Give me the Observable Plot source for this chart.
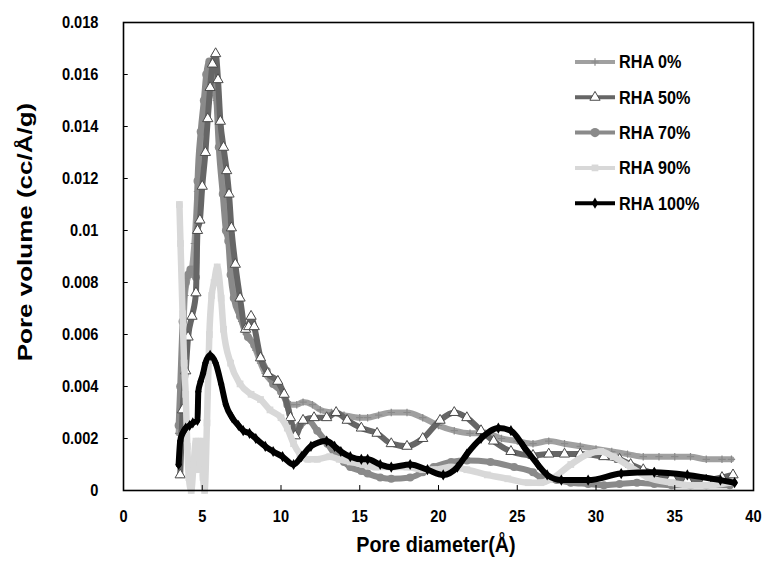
<!DOCTYPE html>
<html>
<head>
<meta charset="utf-8">
<script src="https://cdn.jsdelivr.net/npm/d3@7"></script>
<script src="https://cdn.jsdelivr.net/npm/@observablehq/plot@0.6"></script>
<style>
  html, body { margin: 0; padding: 0; background: #fff; }
  #chart { width: 765px; height: 563px; }
  svg { font-family: "Liberation Sans", Arial, sans-serif; }
</style>
</head>
<body>
<div id="chart"></div>
<script>
const seriesNames = ["RHA 0%", "RHA 50%", "RHA 70%", "RHA 90%", "RHA 100%"];
const xTicks = [0, 5, 10, 15, 20, 25, 30, 35, 40];
const yTicks = [0, 0.002, 0.004, 0.006, 0.008, 0.01, 0.012, 0.014, 0.016, 0.018];

const rha0X = [3.5, 3.7, 3.9, 4.1, 4.3, 4.5, 4.7, 4.9, 5.1, 5.3, 5.5, 5.7, 5.9, 6.1, 6.3, 6.5, 6.7, 6.9, 7.2, 7.5, 7.8, 8.1, 8.4, 8.7, 9.0, 9.4, 9.8, 10.2, 10.6, 11.0, 11.4, 12.0, 12.5, 13.2, 14.0, 15.0, 15.5, 16.2, 17.0, 18.0, 19.0, 20.0, 21.0, 22.0, 23.0, 24.0, 25.0, 26.0, 27.0, 28.0, 29.0, 30.0, 31.0, 32.0, 33.0, 34.0, 35.0, 36.0, 37.0, 38.0, 38.6];
const rha0Y = [0.0022, 0.0045, 0.0075, 0.0082, 0.0084, 0.0095, 0.0115, 0.0128, 0.0138, 0.0146, 0.0152, 0.0155, 0.0150, 0.0138, 0.0125, 0.0112, 0.0098, 0.0086, 0.0074, 0.0065, 0.0060, 0.0058, 0.0054, 0.0049, 0.0045, 0.0042, 0.0040, 0.0036, 0.0033, 0.0033, 0.0034, 0.0033, 0.0031, 0.0030, 0.0029, 0.0028, 0.0028, 0.0029, 0.0030, 0.0030, 0.0028, 0.0025, 0.0023, 0.0022, 0.0022, 0.0020, 0.0019, 0.0018, 0.0019, 0.0018, 0.0017, 0.0016, 0.0015, 0.0014, 0.0013, 0.0013, 0.0013, 0.0013, 0.0012, 0.0012, 0.0012];

const rha50X = [3.6, 3.75, 3.95, 4.1, 4.35, 4.6, 4.7, 4.85, 5.0, 5.2, 5.35, 5.5, 5.65, 5.85, 6.0, 6.15, 6.35, 6.55, 6.7, 6.85, 7.1, 7.4, 7.75, 7.95, 8.1, 8.3, 8.7, 9.15, 9.8, 10.2, 10.6, 10.9, 11.4, 12.1, 12.9, 13.5, 14.2, 15.1, 16.1, 17.0, 18.0, 19.0, 20.1, 21.0, 21.8, 22.7, 23.5, 24.6, 26.0, 27.0, 28.0, 29.0, 30.5, 31.5, 32.2, 33.0, 33.7, 34.8, 35.8, 37.0, 38.0, 38.7];
const rha50Y = [0.0006, 0.0031, 0.0046, 0.0059, 0.0067, 0.0076, 0.0100, 0.0104, 0.0117, 0.0130, 0.0143, 0.0155, 0.0164, 0.0168, 0.0158, 0.0142, 0.0132, 0.0123, 0.0114, 0.0101, 0.0087, 0.0074, 0.0062, 0.0063, 0.0067, 0.0063, 0.0051, 0.0045, 0.0042, 0.0037, 0.0028, 0.0021, 0.0027, 0.0028, 0.0028, 0.0030, 0.0027, 0.0024, 0.0022, 0.0018, 0.0017, 0.0020, 0.0027, 0.0030, 0.0028, 0.0023, 0.0019, 0.0015, 0.00135, 0.0014, 0.0014, 0.0014, 0.0013, 0.0012, 0.0010, 0.0008, 0.00065, 0.0005, 0.0004, 0.0004, 0.0005, 0.0006];

const rha70X = [3.5, 3.6, 3.75, 3.95, 4.1, 4.25, 4.45, 4.6, 4.7, 4.9, 5.1, 5.25, 5.45, 5.65, 5.85, 6.05, 6.3, 6.5, 6.65, 6.8, 7.0, 7.4, 7.9, 8.3, 8.7, 9.1, 9.5, 10.0, 10.4, 10.8, 11.2, 11.7, 12.3, 12.95, 13.4, 14.0, 14.4, 15.1, 15.5, 16.3, 17.0, 18.2, 19.0, 19.7, 20.8, 21.8, 23.3, 24.8, 26.0, 26.5, 27.5, 28.4, 29.5, 30.5, 31.5, 32.6, 33.7, 34.8, 36.0, 37.0, 38.5];
const rha70Y = [0.0025, 0.0040, 0.0065, 0.0080, 0.0083, 0.0085, 0.0085, 0.0082, 0.0119, 0.0138, 0.0150, 0.0160, 0.0165, 0.0164, 0.0156, 0.0132, 0.0114, 0.0100, 0.0096, 0.0083, 0.0074, 0.0067, 0.0059, 0.0056, 0.0051, 0.0046, 0.0041, 0.0038, 0.0033, 0.0024, 0.0025, 0.0027, 0.0023, 0.0018, 0.0014, 0.0011, 0.0009, 0.00075, 0.00065, 0.0005, 0.00045, 0.0005, 0.0007, 0.0009, 0.0011, 0.00115, 0.0011, 0.0009, 0.0007, 0.0005, 0.0004, 0.0003, 0.00025, 0.0002, 0.00025, 0.0003, 0.00025, 0.0002, 0.0002, 0.0002, 0.0002];

const rha90X = [3.55, 3.62, 3.75, 3.85, 3.95, 4.05, 4.15, 4.3, 4.45, 4.6, 4.75, 4.9, 5.05, 5.15, 5.3, 5.45, 5.6, 5.75, 5.95, 6.2, 6.35, 6.8, 7.4, 8.1, 8.7, 9.3, 10.0, 10.4, 10.8, 11.2, 11.7, 12.3, 13.1, 13.7, 14.4, 15.2, 16.0, 17.0, 18.0, 19.0, 19.7, 20.8, 21.8, 23.1, 24.4, 25.7, 26.5, 27.3, 28.4, 29.5, 30.3, 31.1, 32.2, 33.3, 34.8, 36.0, 37.0, 38.4];
const rha90Y = [0.0110, 0.0095, 0.0068, 0.0049, 0.0037, 0.0017, 0.0005, 0.0000, 0.0010, 0.0019, 0.0008, 0.0019, 0.0005, 0.0000, 0.0026, 0.0060, 0.0075, 0.0080, 0.0086, 0.0074, 0.0062, 0.0049, 0.0041, 0.0037, 0.0035, 0.0031, 0.0028, 0.0024, 0.0018, 0.0014, 0.0012, 0.0012, 0.0013, 0.0012, 0.0011, 0.0010, 0.0009, 0.0009, 0.0009, 0.0008, 0.0008, 0.0009, 0.0008, 0.0006, 0.00045, 0.0003, 0.0003, 0.0005, 0.0010, 0.0014, 0.0015, 0.0013, 0.0009, 0.0005, 0.0003, 0.0002, 0.0002, 0.0003];

const rha100X = [3.5, 3.6, 3.75, 3.95, 4.2, 4.4, 4.7, 4.75, 4.9, 5.05, 5.2, 5.5, 5.85, 6.2, 6.5, 6.9, 7.3, 7.6, 8.0, 8.4, 9.0, 9.5, 10.1, 10.8, 11.3, 11.9, 12.9, 13.4, 13.8, 14.4, 15.1, 15.5, 16.3, 17.0, 18.2, 19.3, 20.3, 21.2, 21.8, 22.7, 23.8, 24.6, 25.4, 26.3, 26.9, 27.8, 29.5, 31.6, 33.7, 35.8, 37.9, 38.8];
const rha100Y = [0.0010, 0.0019, 0.0022, 0.0024, 0.0025, 0.0026, 0.0027, 0.0038, 0.0042, 0.0045, 0.0049, 0.0052, 0.0049, 0.0041, 0.0033, 0.0028, 0.0025, 0.0023, 0.0022, 0.0020, 0.0017, 0.0015, 0.0013, 0.0010, 0.0013, 0.0017, 0.0019, 0.0017, 0.0015, 0.0013, 0.0012, 0.0012, 0.0010, 0.0009, 0.0010, 0.0008, 0.0006, 0.0009, 0.0014, 0.0020, 0.0024, 0.0023, 0.0017, 0.0010, 0.0006, 0.0004, 0.0004, 0.00065, 0.0007, 0.0006, 0.0004, 0.0003];

const toRows = (xs, ys) => xs.map((x, i) => ({x, y: ys[i]}));
const rows = {
  "RHA 0%": toRows(rha0X, rha0Y),
  "RHA 50%": toRows(rha50X, rha50Y),
  "RHA 70%": toRows(rha70X, rha70Y),
  "RHA 90%": toRows(rha90X, rha90Y),
  "RHA 100%": toRows(rha100X, rha100Y)
};

const styles = {
  "RHA 0%":   {line: "#a0a0a0", sw: 6, symbol: "plus", r: 2.5, fill: "none", stroke: "#8a8a8a", dsw: 1.2},
  "RHA 50%":  {line: "#666666", sw: 6, symbol: "triangle", r: 3.8, fill: "#ffffff", stroke: "#4a4a4a", dsw: 1},
  "RHA 70%":  {line: "#8a8a8a", sw: 6, symbol: "circle", r: 4, fill: "#8a8a8a", stroke: "none", dsw: 0},
  "RHA 90%":  {line: "#d8d8d8", sw: 6.5, symbol: "square", r: 3.8, fill: "#d8d8d8", stroke: "none", dsw: 0},
  "RHA 100%": {line: "#000000", sw: 6, symbol: "diamond", r: 3.4, fill: "#000000", stroke: "none", dsw: 0}
};
const drawOrder = ["RHA 0%", "RHA 70%", "RHA 50%", "RHA 90%", "RHA 100%"];

const marks = [];
for (const name of drawOrder) {
  const s = styles[name];
  marks.push(Plot.line(rows[name], {x: "x", y: "y", stroke: s.line, strokeWidth: s.sw, curve: "monotone-x", strokeLinejoin: "round", strokeLinecap: "round"}));
  marks.push(Plot.dot(rows[name], {x: "x", y: "y", symbol: () => s.symbol, r: s.r, fill: s.fill, stroke: s.stroke, strokeWidth: s.dsw}));
}
// inward tick marks
marks.push(Plot.ruleY(yTicks, {y: d => d, x1: 0, x2: 0.3, stroke: "#000", strokeWidth: 1}));
marks.push(Plot.ruleX(xTicks, {x: d => d, y1: 0, y2: 0.00019, stroke: "#000", strokeWidth: 1}));
marks.push(Plot.frame({stroke: "#000", strokeWidth: 1.6}));

const chart = Plot.plot({
  width: 765,
  height: 563,
  marginLeft: 123,
  marginRight: 12,
  marginTop: 22,
  marginBottom: 73,
  style: {fontFamily: "'Liberation Sans', Arial, sans-serif", background: "#fff"},
  symbol: {type: "identity"},
  x: {domain: [0, 40], ticks: xTicks, tickSize: 0, tickPadding: 19, label: null, tickFormat: d => String(d)},
  y: {domain: [0, 0.018], ticks: yTicks, tickSize: 0, tickPadding: 25, label: null, tickFormat: d => String(+d.toFixed(3))},
  marks
});

const svg = d3.select(chart);
svg.selectAll("[aria-label='x-axis tick label'] text, [aria-label='y-axis tick label'] text")
  .style("font-size", "17px").style("font-weight", "bold").attr("fill", "#000")
  .attr("transform", function() { return (this.getAttribute("transform") || "") + " scale(0.86,1)"; });

// axis titles
svg.append("text")
  .attr("transform", "translate(436,552) scale(0.9,1)")
  .attr("text-anchor", "middle")
  .style("font-size", "22px").style("font-weight", "bold")
  .text("Pore diameter(Å)");
svg.append("text")
  .attr("transform", "translate(32,232) rotate(-90) scale(1,0.75)")
  .attr("text-anchor", "middle")
  .style("font-size", "26px").style("font-weight", "bold")
  .text("Pore volume (cc/Å/g)");

// legend
const lg = svg.append("g");
seriesNames.forEach((name, i) => {
  const s = styles[name];
  const yy = 62 + i * 35.3;
  lg.append("line").attr("x1", 575).attr("x2", 615).attr("y1", yy).attr("y2", yy)
    .attr("stroke", s.line).attr("stroke-width", 4);
  const sym = d3.symbol().type({
    plus: d3.symbolPlus, triangle: d3.symbolTriangle, circle: d3.symbolCircle,
    square: d3.symbolSquare, diamond: d3.symbolDiamond
  }[s.symbol]).size(Math.PI * s.r * s.r * (s.symbol === "circle" ? 1.3 : 1));
  lg.append("path").attr("d", sym()).attr("transform", `translate(595,${yy})`)
    .attr("fill", s.fill).attr("stroke", s.stroke).attr("stroke-width", s.dsw);
  lg.append("text").attr("transform", `translate(619,${yy}) scale(0.9,1)`).attr("dy", "0.36em")
    .attr("text-anchor", "start")
    .style("font-size", "18px").style("font-weight", "bold").text(name);
});

document.getElementById("chart").appendChild(chart);
</script>
</body>
</html>
